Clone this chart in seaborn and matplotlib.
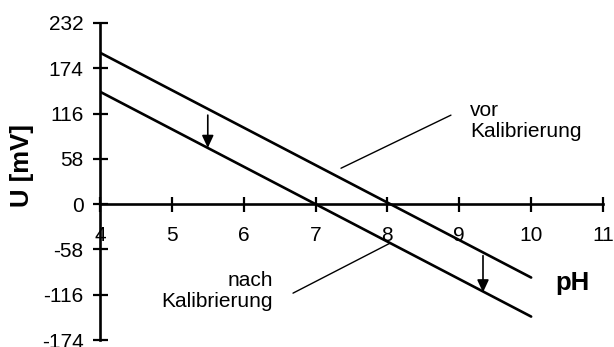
import numpy as np
import pandas as pd
import matplotlib
matplotlib.use("Agg")
import matplotlib.pyplot as plt
import seaborn as sns
from matplotlib.patches import Rectangle

# values
ph_points = [4, 10]
u_before = [194, -94]   # vor Kalibrierung
u_after = [144, -144]   # nach Kalibrierung
x_ticks = [4, 5, 6, 7, 8, 9, 10, 11]
y_ticks = [232, 174, 116, 58, 0, -58, -116, -174]

# arrows (x, start, end) showing the shift
arrow_x = [5.5, 9.33]
arrow_from = [114, -66]
arrow_to = [72, -113]

sns.set_style("ticks")
plt.rcParams['font.family'] = ['Liberation Sans', 'DejaVu Sans']
plt.rcParams['axes.unicode_minus'] = False
plt.rcParams['text.color'] = 'black'
plt.rcParams['axes.labelcolor'] = 'black'

df = pd.DataFrame({
    'pH': ph_points * 2,
    'U': u_before + u_after,
    'Kurve': ['vor'] * 2 + ['nach'] * 2,
})

fig = plt.figure(figsize=(6.14, 3.47), dpi=100)
ax = fig.add_axes([100 / 614, 7 / 347, 503 / 614, 317 / 347])

sns.lineplot(data=df, x='pH', y='U', units='Kurve', estimator=None,
             color='black', lw=1.9, ax=ax, legend=False)

ax.set_xlim(4, 11)
ax.set_ylim(-174, 232)
ax.set_xticks(x_ticks)
ax.set_yticks(y_ticks)

for side in ['top', 'right']:
    ax.spines[side].set_visible(False)
ax.spines['bottom'].set_position(('data', 0))
for side in ['left', 'bottom']:
    ax.spines[side].set_linewidth(1.9)
    ax.spines[side].set_color('black')
ax.tick_params(direction='inout', length=10.8, width=1.6, colors='black',
               labelsize=15)
ax.tick_params(axis='x', pad=10)
ax.tick_params(axis='y', pad=6.5)

# arrows
for x, y0, y1 in zip(arrow_x, arrow_from, arrow_to):
    ax.annotate('', xy=(x, y1), xytext=(x, y0),
                arrowprops=dict(arrowstyle='-|>,head_length=0.75,head_width=0.35',
                                color='black', lw=1.2, shrinkA=0, shrinkB=0))

# leader lines and annotations
ax.plot([7.354, 8.884], [46, 114], color='black', lw=1.0)
ax.plot([6.686, 8.036], [-114, -50], color='black', lw=1.0)

t_vor = ax.text(9.15, 86, 'vor\nKalibrierung', ha='left', va='baseline',
                fontsize=15, linespacing=1.15, color='black')
ax.text(6.41, -132, 'nach\nKalibrierung', ha='right', va='baseline',
        fontsize=15, linespacing=1.15, multialignment='right', color='black')

ax.set_xlabel('')
ax.set_ylabel('U [mV]', fontsize=18.5, fontweight='bold', va='center',
              color='black')
ax.yaxis.set_label_coords(-0.155, 0.552)
ax.text(10.57, -101, 'pH', ha='center', va='center', fontsize=18.5,
        fontweight='bold', color='black')

# the reference's "vor Kalibrierung" box cuts off the descender
clip = Rectangle((440 / 614, (347 - 139) / 347), 174 / 614, 139 / 347,
                 transform=fig.transFigure)
t_vor.set_clip_path(clip)

fig.savefig('out.png', dpi=100)
